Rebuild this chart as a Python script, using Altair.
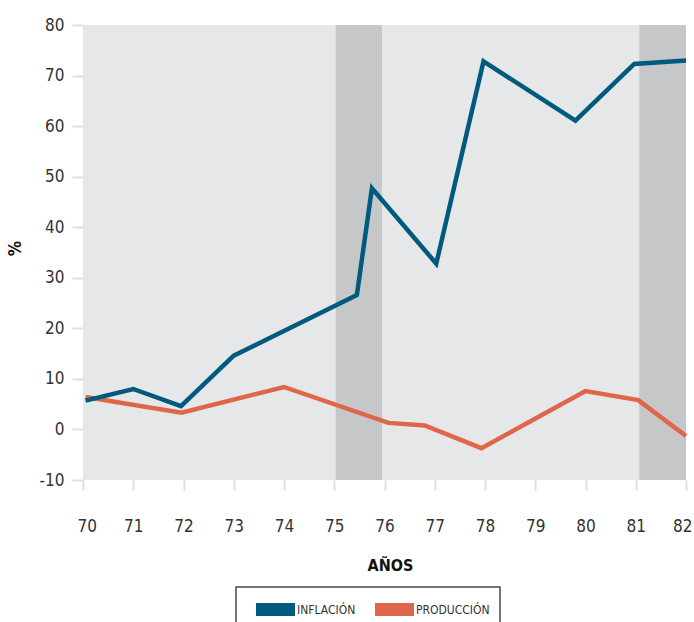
import altair as alt
import pandas as pd

# Inflación (%), año decimal de cada vértice
inflacion_anio = [70.05, 71.0, 71.95, 73.0, 75.45, 75.75, 77.03, 77.97, 79.8, 80.97, 82.0]
inflacion_valor = [5.7, 8.0, 4.6, 14.6, 26.6, 47.7, 32.8, 72.8, 61.1, 72.3, 73.0]

# Producción (%), año decimal de cada vértice
produccion_anio = [70.05, 71.96, 74.0, 76.08, 76.8, 77.93, 80.0, 81.05, 82.0]
produccion_valor = [6.4, 3.3, 8.4, 1.3, 0.8, -3.7, 7.6, 5.8, -1.3]

# Periodos sombreados
periodo_inicio = [75.03, 81.07]
periodo_fin = [75.95, 82.0]

anios_eje = list(range(70, 83))
valores_eje_y = list(range(-10, 81, 10))
series = ["INFLACIÓN", "PRODUCCIÓN"]
colores = ["#005a7e", "#e0664b"]

FUENTE = "DejaVu Sans Condensed, DejaVu Sans, sans-serif"

df_inf = pd.DataFrame({"anio": inflacion_anio, "valor": inflacion_valor, "serie": series[0]})
df_prod = pd.DataFrame({"anio": produccion_anio, "valor": produccion_valor, "serie": series[1]})
df_bandas = pd.DataFrame({"inicio": periodo_inicio, "fin": periodo_fin})

x_scale = alt.Scale(domain=[70, 82], nice=False, zero=False)
y_scale = alt.Scale(domain=[-10, 80], nice=False, zero=False)
color_scale = alt.Scale(domain=series, range=colores)

eje_x = alt.Axis(
    values=anios_eje, format="d", tickSize=10, tickWidth=2, tickColor="#dfe0e1",
    domain=False, grid=False, labelFlush=True, labelFlushOffset=6, labelPadding=28,
    labelFontSize=17, labelFont=FUENTE, labelColor="#333333",
    title="AÑOS", titleFont=FUENTE, titleFontSize=16, titleFontWeight="bold",
    titleColor="#111111", titleX=307, titleY=85, titleBaseline="middle",
)
eje_y = alt.Axis(
    values=valores_eje_y, tickSize=11, tickWidth=2, tickColor="#dfe0e1",
    domain=False, grid=False, labelPadding=8, labelExpr="toString(datum.value)",
    labelFontSize=17, labelFont=FUENTE, labelColor="#333333",
    title="%", titleFont=FUENTE, titleFontSize=17, titleFontWeight="bold",
    titleColor="#111111", titleX=-68, titleY=223, titleBaseline="middle",
)
# Muestra de color: trazo horizontal de 39 px y 13 px de grosor
leyenda = alt.Legend(
    orient="none", legendX=153, legendY=562, direction="horizontal", title=None,
    strokeColor="#4a4a4a", fillColor="white", padding=9.5,
    symbolType="M-3,0H3", symbolSize=169, symbolStrokeWidth=13, symbolOffset=17,
    labelFont=FUENTE, labelFontSize=12, labelColor="#333333", labelOffset=8.5,
    columnPadding=-7,
    labelExpr="datum.label == 'PRODUCCIÓN' ? datum.label + '\u00a0' : datum.label",
)

bandas = alt.Chart(df_bandas).mark_rect(color="#c6c7c9").encode(
    x=alt.X("inicio:Q", scale=x_scale, axis=eje_x),
    x2="fin:Q",
    y=alt.YDatum(datum=80, type="quantitative", scale=y_scale, axis=eje_y),
    y2=alt.Y2Datum(datum=-10),
)

def linea(df):
    return alt.Chart(df).mark_line(strokeWidth=4.5).encode(
        x=alt.X("anio:Q", scale=x_scale, axis=eje_x),
        y=alt.Y("valor:Q", scale=y_scale, axis=eje_y),
        color=alt.Color("serie:N", scale=color_scale, legend=leyenda),
    )

chart = alt.layer(bandas, linea(df_prod), linea(df_inf)).properties(
    width=603, height=455, autosize="none",
    padding={"left": 83, "top": 25, "right": 8, "bottom": 142},
).configure_view(fill="#e6e7e8", stroke=None).configure_legend(strokeWidth=1.5)

chart.save("out.html", embed_options={"renderer": "svg", "actions": False})
